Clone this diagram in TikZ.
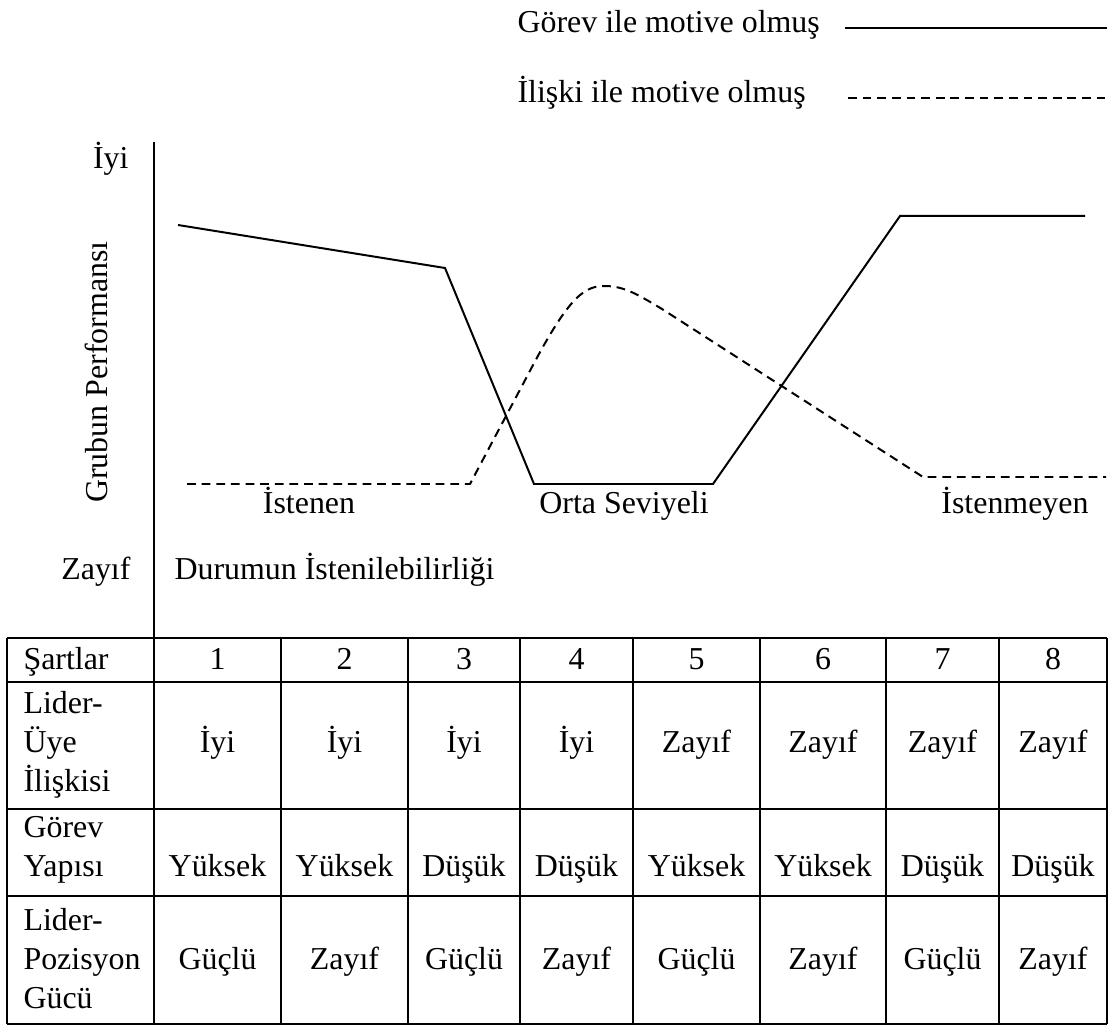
\documentclass[tikz,border=0pt]{standalone}
\usepackage{fontspec}
\setmainfont{Liberation Serif}
\begin{document}
\begin{tikzpicture}[x=0.376pt,y=-0.376pt,
  txt/.style={font=\fontsize{12}{14.7}\selectfont, inner sep=0pt},
  tabline/.style={line width=0.9pt},
  axisline/.style={line width=0.75pt},
  taskline/.style={line width=0.75pt, line join=miter},
  relline/.style={line width=0.75pt, dash pattern=on 3.3pt off 2.2pt},
]
\useasboundingbox (0,0) rectangle (1110,1026);

% legend
\node[txt, anchor=mid west] (lgTask) at (517,26) {Görev ile motive olmuş};
\coordinate (lgTaskA) at (845,28);
\coordinate (lgTaskB) at (1107,28);
\draw[taskline] (lgTaskA) -- (lgTaskB);
\node[txt, anchor=mid west] (lgRel) at (517,96) {İlişki ile motive olmuş};
\coordinate (lgRelA) at (848,98);
\coordinate (lgRelB) at (1107,98);
\draw[relline] (lgRelA) -- (lgRelB);

% vertical axis and its labels
\coordinate (axTop) at (154,142);
\coordinate (axBot) at (154,638);
\draw[axisline] (axTop) -- (axBot);
\node[txt, anchor=mid east] (good) at (129,162) {İyi};
\node[txt, anchor=mid, rotate=90] (perf) at (101,372) {Grubun Performansı};
\node[txt, anchor=mid east] (weak) at (131,573) {Zayıf};
\node[txt, anchor=mid west] (desir) at (174,573) {Durumun İstenilebilirliği};

% task-motivated curve
\coordinate (t1) at (178,225);
\coordinate (t2) at (445,268);
\coordinate (t3) at (534,484);
\coordinate (t4) at (713,484);
\coordinate (t5) at (900,216);
\coordinate (t6) at (1085,216);
\draw[taskline] (t1) -- (t2) -- (t3) -- (t4) -- (t5) -- (t6);

% relationship-motivated curve
\coordinate (r1) at (187,484);
\coordinate (r2) at (470,484);
\coordinate (r3) at (532,367);
\coordinate (r4) at (605,286);
\coordinate (r5) at (662,309);
\coordinate (r6) at (923,477);
\coordinate (r7) at (1106,477);
\draw[relline] (r1) -- (r2) -- (r3)
  .. controls (570,295) and (585,286) .. (r4)
  .. controls (625,286) and (640,296) .. (r5)
  -- (r6) -- (r7);

% situation labels
\node[txt, anchor=mid] (lblA) at (309,507) {İstenen};
\node[txt, anchor=mid] (lblB) at (624,507) {Orta Seviyeli};
\node[txt, anchor=mid] (lblC) at (1015,507) {İstenmeyen};

% table grid
\foreach \yy [count=\i] in {638,682,809,896,1024}
  \draw[tabline] (7,\yy) coordinate (hl\i) -- (1107,\yy) coordinate (hr\i);
\foreach \xx [count=\i] in {7,154,281,408,520,633,760,886,999,1107}
  \draw[tabline] (\xx,638) coordinate (vt\i) -- (\xx,1024) coordinate (vb\i);

% row headers
\node[txt, anchor=mid west] (hA) at (23,663) {Şartlar};
\node[txt, anchor=mid west] (hB1) at (23,707) {Lider-};
\node[txt, anchor=mid west] (hB2) at (23,746) {Üye};
\node[txt, anchor=mid west] (hB3) at (23,785) {İlişkisi};
\node[txt, anchor=mid west] (hC1) at (23,831) {Görev};
\node[txt, anchor=mid west] (hC2) at (23,870) {Yapısı};
\node[txt, anchor=mid west] (hD1) at (23,924) {Lider-};
\node[txt, anchor=mid west] (hD2) at (23,963) {Pozisyon};
\node[txt, anchor=mid west] (hD3) at (23,1002) {Gücü};

% cell values
\foreach \cx/\n/\lm/\ts/\pp [count=\i] in
  {217.5/1/İyi/Yüksek/Güçlü, 344.5/2/İyi/Yüksek/Zayıf,
   464/3/İyi/Düşük/Güçlü, 576.5/4/İyi/Düşük/Zayıf,
   696.5/5/Zayıf/Yüksek/Güçlü, 823/6/Zayıf/Yüksek/Zayıf,
   942.5/7/Zayıf/Düşük/Güçlü, 1053/8/Zayıf/Düşük/Zayıf}{
  \node[txt, anchor=mid] (num\i) at (\cx,663) {\n};
  \node[txt, anchor=mid] (lm\i) at (\cx,746) {\lm};
  \node[txt, anchor=mid] (ts\i) at (\cx,870) {\ts};
  \node[txt, anchor=mid] (pp\i) at (\cx,963) {\pp};
}
\end{tikzpicture}
\end{document}
